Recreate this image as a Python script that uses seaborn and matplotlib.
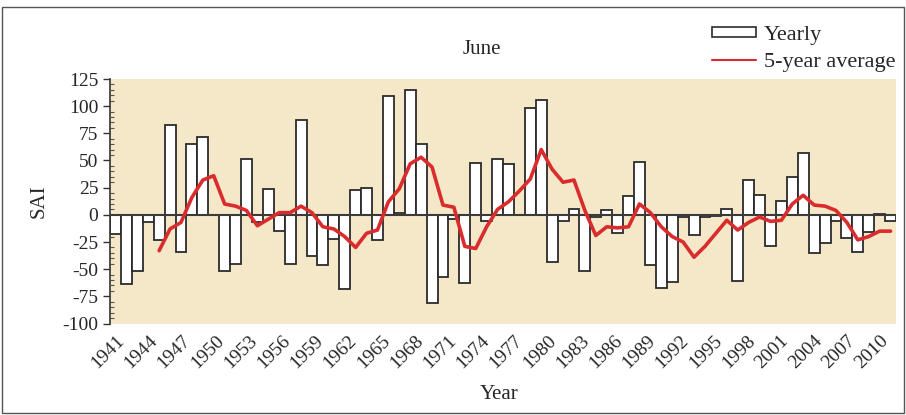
import numpy as np
import matplotlib
matplotlib.use("Agg")
import matplotlib.pyplot as plt
from matplotlib.patches import Patch, Rectangle
from matplotlib.lines import Line2D
from matplotlib.ticker import MultipleLocator
import seaborn as sns

# yearly SAI values for June
years = list(range(1941, 2013))
sai = [-18, -64, -52, -7, -23, 83, -34, 65, 72, 0,
       -52, -45, 51, -7, 24, -15, -45, 87, -38, -46,
       -22, -68, 23, 25, -23, 109, 2, 115, 65, -81,
       -57, -4, -63, 48, -6, 51, 47, 0, 98, 106,
       -43, -6, 5, -52, -2, 4, -17, 17, 49, -46,
       -67, -62, -2, -19, -2, -1, 5, -61, 32, 18,
       -29, 13, 35, 57, -35, -26, -6, -21, -34, -16,
       1, -6]

# 5-year average curve (starts at the 5th year)
avg_years = years[4:]
avg_sai = [-33, -13, -7, 16, 32, 36, 10, 8, 4, -10,
           -4, 2, 2, 8, 2, -11, -13, -20, -30, -17,
           -14, 12, 24, 47, 53, 44, 9, 7, -29, -31,
           -11, 5, 12, 22, 33, 60, 42, 30, 32, 4,
           -19, -11, -12, -11, 10, 2, -11, -20, -25, -39,
           -29, -17, -5, -14, -7, -2, -6, -5, 10, 18,
           9, 8, 4, -7, -23, -20, -15, -15]

tick_labels = [str(y) for y in range(1941, 2011, 3)]

sns.set_style("ticks")
plt.rcParams['font.family'] = ['Liberation Serif', 'DejaVu Serif']
plt.rcParams['axes.unicode_minus'] = False

fig = plt.figure(figsize=(9.06, 4.15), dpi=100)
ax = fig.add_axes([110/906, 1-323.5/415, 786/906, 244.5/415])
ax.set_facecolor('#F5E8C8')

sns.barplot(x=years, y=sai, native_scale=True, width=1.0, color='white',
            saturation=1, edgecolor='#2b2b2b', linewidth=1.3, errorbar=None, ax=ax)
ax.axhline(0, color='#3a3a3a', lw=1.5, zorder=3)
sns.lineplot(x=avg_years, y=avg_sai, color='#DA2C2C', linewidth=2.6, ax=ax, zorder=4)

ax.set_xlim(1940.5, 2012.5)
ax.set_ylim(-100, 125)
ax.yaxis.set_major_locator(MultipleLocator(25))
ax.yaxis.set_minor_locator(MultipleLocator(5))
pos = np.linspace(1941, 2011, len(tick_labels))
ax.set_xticks(pos)
ax.set_xticklabels(tick_labels, rotation=45, ha='right', rotation_mode='anchor')
ax.tick_params(axis='x', length=0, pad=6, labelsize=14)
ax.tick_params(axis='y', which='major', direction='out', length=5, width=1,
               labelsize=14, color='#333')
ax.tick_params(axis='y', which='minor', direction='in', length=3, width=0.8, color='#555')
for s in ['top', 'right', 'bottom']:
    ax.spines[s].set_visible(False)
ax.spines['left'].set_color('#333')
ax.spines['left'].set_linewidth(1.2)

ax.set_xlabel('Year', fontsize=15)
ax.xaxis.set_label_coords((499-110)/786, (323.5-385)/244.5)
ax.set_ylabel('SAI', fontsize=15)
ax.yaxis.set_label_coords((49-110)/786, 0.5)

fig.text(482/906, 1-50/415, 'June', fontsize=15, ha='center', va='center')

handles = [Patch(facecolor='white', edgecolor='#2b2b2b', linewidth=1.2),
           Line2D([], [], color='#DA2C2C', lw=1.5)]
fig.legend(handles, ['Yearly', '5-year average'], loc='upper left',
           bbox_to_anchor=(712/906, 1-26/415), frameon=False, fontsize=16,
           handlelength=2.0, handleheight=0.3, handletextpad=0.35,
           labelspacing=0.35, borderpad=0, borderaxespad=0)

fig.patches.append(Rectangle((2/906, 2/415), 902/906, 406/415, transform=fig.transFigure,
                             fill=False, edgecolor='#555', linewidth=1))

fig.savefig('out.png', dpi=100)
